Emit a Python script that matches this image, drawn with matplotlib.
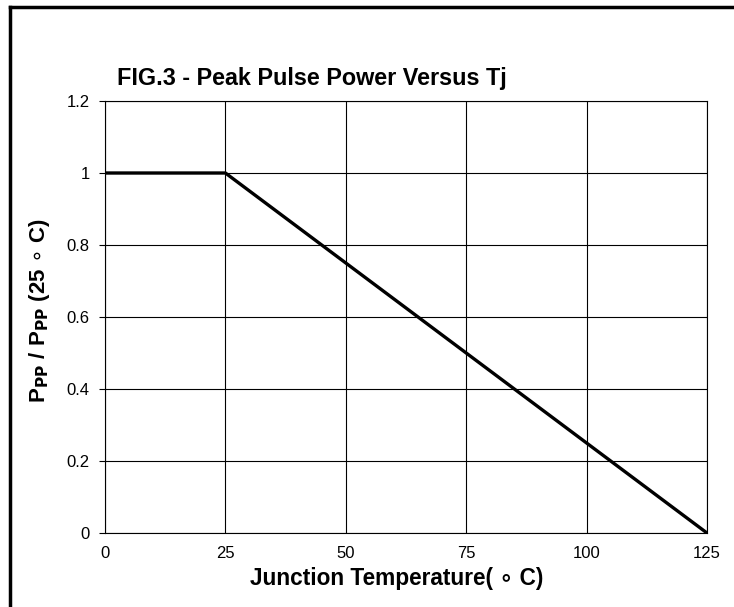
import matplotlib
matplotlib.use("Agg")
import matplotlib.pyplot as plt
from matplotlib.lines import Line2D

plt.rcParams['font.family'] = ['Liberation Sans', 'DejaVu Sans']

# curve data
temp = [0, 25, 125]
power = [1, 1, 0]
xticks = [0, 25, 50, 75, 100, 125]
yticks = [0, 0.2, 0.4, 0.6, 0.8, 1, 1.2]
ytick_labels = ['0', '0.2', '0.4', '0.6', '0.8', '1', '1.2']

fig = plt.figure(figsize=(7.34, 6.07), dpi=100)
ax = fig.add_axes([105 / 734, 1 - 533 / 607, (707 - 105) / 734, (533 - 101) / 607])

ax.plot(temp, power, color='black', linewidth=2.4, solid_capstyle='butt', zorder=3)

ax.set_xlim(0, 125)
ax.set_ylim(0, 1.2)
ax.set_xticks(xticks)
ax.set_xticklabels([str(t) for t in xticks], fontsize=12)
ax.set_yticks(yticks)
ax.set_yticklabels(ytick_labels, fontsize=12)
ax.tick_params(axis='x', length=0, pad=9)
ax.tick_params(axis='y', length=4, width=0.8, pad=7)
ax.grid(True, color='black', linewidth=0.8)
for s in ax.spines.values():
    s.set_linewidth(0.8)

ax.set_xlabel('Junction Temperature( \u2218 C)', fontsize=16.3, fontweight='bold')
ax.xaxis.set_label_coords(0.485, -0.078)
ax.set_ylabel(r'P$_{\mathbf{PP}}$ / P$_{\mathbf{PP}}$ (25 $\circ$ C)', fontsize=16, fontweight='bold')
ax.yaxis.set_label_coords(-0.088, 0.515)

fig.text(117 / 734, 1 - 78 / 607, 'FIG.3 - Peak Pulse Power Versus Tj', fontsize=16.8,
         fontweight='bold', va='center', ha='left')

# outer frame (left and top edges visible)
fig.add_artist(Line2D([10 / 734, 10 / 734], [0, 1 - 7 / 607], transform=fig.transFigure,
                      color='black', linewidth=2.5))
fig.add_artist(Line2D([10 / 734, 1], [1 - 7 / 607, 1 - 7 / 607], transform=fig.transFigure,
                      color='black', linewidth=2.5))

fig.savefig('out.png', dpi=100)
